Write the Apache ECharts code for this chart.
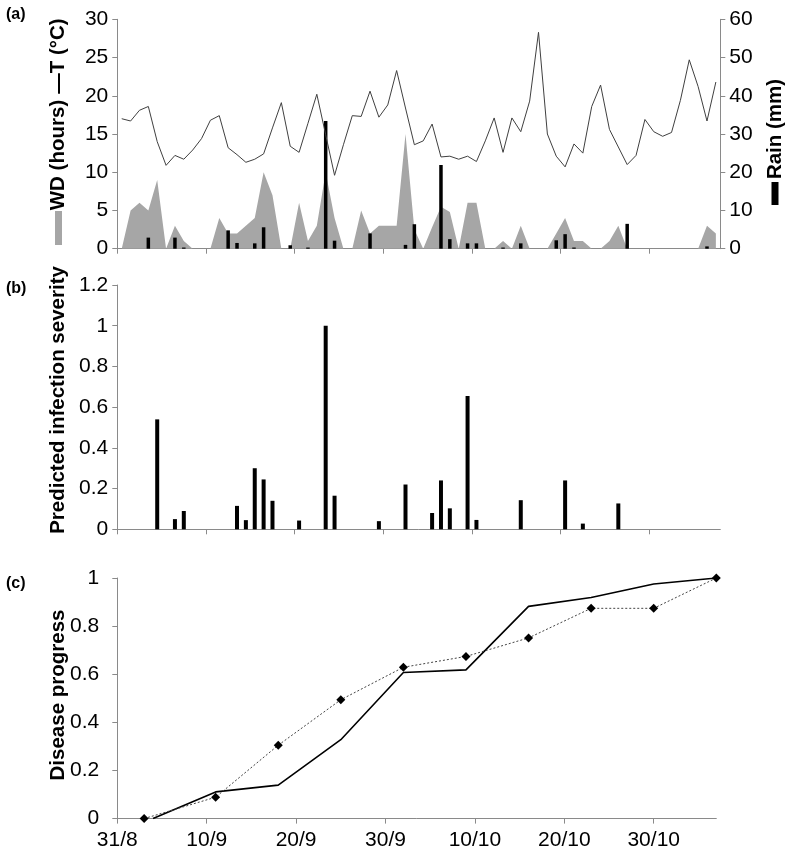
<!DOCTYPE html>
<html><head><meta charset="utf-8">
<script src="https://cdn.jsdelivr.net/npm/echarts@6/dist/echarts.min.js"></script>
<style>html,body{margin:0;padding:0;background:#fff}#c{width:795px;height:859px}</style>
</head><body><div id="c"></div>
<script>
// ---------- data ----------
const startDay = '31/8';
const nDays = 68; // 31/8 .. 6/11, one slot per day
const tickLabels = ['31/8','10/9','20/9','30/9','10/10','20/10','30/10'];

// (a) daily mean temperature (°C)
const tempC = [17.0,16.7,18.1,18.6,14.0,10.9,12.2,11.7,12.9,14.4,16.8,17.4,13.2,12.3,11.3,11.7,12.4,15.8,19.1,13.4,
  12.6,16.4,20.2,14.9,9.6,13.6,17.4,17.3,20.6,17.2,18.8,23.3,18.4,13.6,14.1,16.3,12.0,12.1,11.7,12.1,
  11.4,14.1,17.1,12.6,17.1,15.3,19.3,28.3,15.0,12.1,10.7,13.7,12.5,18.6,21.4,15.6,13.3,11.0,12.2,16.9,
  15.3,14.7,15.2,19.4,24.7,21.2,16.7,21.8];
// (a) wetness duration (hours)
const wdHours = [0,5,6,5,9,0,3,1,0,0,0,4,2,2,3,4,10,7,0,0,
  6,1,3,10,4,0,0,5,2,3,3,3,15,2.5,0,2.8,5.5,4.8,0,6,
  6,0,0,1,0,3,0,0,0,2,4,1,1,0,0,1,3,0,0,0,
  0,0,0,0,0,0,3,2];
// (a) rain (mm)
const rainMm = [0,0,0,2.9,0,0,2.9,0.3,0,0,0,0,4.8,1.5,0,1.4,5.6,0,0,0.9,
  0,0.3,0,33.4,2.1,0,0,0,4.0,0,0,0,1.0,6.4,0,0,21.9,2.5,0,1.4,
  1.4,0,0,0.3,0,1.4,0,0,0,2.2,3.8,0.3,0,0,0,0,0,6.5,0,0,
  0,0,0,0,0,0,0.6,0];
// (b) predicted infection severity
const severity = [0,0,0,0,0.54,0,0.05,0.09,0,0,0,0,0,0.115,0.045,0.30,0.245,0.14,0,0,
  0.043,0,0,1.0,0.165,0,0,0,0,0.04,0,0,0.22,0,0,0.08,0.24,0.103,0,0.655,
  0.046,0,0,0,0,0.143,0,0,0,0,0.24,0,0.028,0,0,0,0.127,0,0,0,
  0,0,0,0,0,0,0,0];
// (c) disease progress
const solidDates  = ['4/9','11/9','18/9','25/9','2/10','9/10','16/10','23/10','30/10','6/11'];
const solidValues = [0,0.111,0.139,0.328,0.607,0.618,0.882,0.919,0.975,1.0];
const dottedDates  = ['3/9','11/9','18/9','25/9','2/10','9/10','16/10','23/10','30/10','6/11'];
const dottedValues = [0,0.089,0.305,0.494,0.629,0.674,0.751,0.874,0.874,1.0];

// ---------- helpers ----------
function dayIndex(s){ const p=s.split('/').map(Number); const off={8:-31,9:0,10:30,11:61}; return p[0]+off[p[1]]; }
const tickVals = tickLabels.map(dayIndex);
const daily = arr => arr.map((v,i)=>[i+0.5, v]);

const AX = '#8a8a8a';
const FONT = 'Liberation Sans, Arial, sans-serif';
const LBL = {color:'#000', fontSize:21, fontFamily:FONT};

function xAx(grid, max, showLabels){
  return {type:'value', gridIndex:grid, min:0, max:max, interval:10,
    axisLine:{show:true, onZero:false, lineStyle:{color:AX,width:1}},
    axisTick:{show:true, inside:false, length:5, customValues:tickVals, lineStyle:{color:AX}},
    axisLabel: showLabels ? Object.assign({customValues:tickVals, margin:11,
      formatter:v=>{const i=tickVals.indexOf(v); return i>=0?tickLabels[i]:'';}}, LBL) : {show:false},
    splitLine:{show:false}};
}
function yAx(grid, max, interval, pos, margin){
  return {type:'value', gridIndex:grid, min:0, max:max, interval:interval, position:pos||'left',
    axisLine:{show:true, lineStyle:{color:AX,width:1}},
    axisTick:{show:true, inside:false, length:5, lineStyle:{color:AX}},
    axisLabel:Object.assign({margin:margin||9}, LBL),
    splitLine:{show:false}};
}

const chart = echarts.init(document.getElementById('c'), null, {renderer:'canvas'});
const nameStyle = {fill:'#000', font:'bold 20.5px '+FONT, textAlign:'center', textVerticalAlign:'middle'};
chart.setOption({
  animation:false,
  backgroundColor:'#fff',
  grid:[
    {left:117.3, top:19.3, width:603, height:229.4},
    {left:117.3, top:285, width:603, height:244.3},
    {left:117.3, top:578, width:599, height:240.6}
  ],
  xAxis:[ xAx(0, nDays, false), xAx(1, nDays, false), xAx(2, dayIndex('6/11'), true) ],
  yAxis:[ yAx(0,30,5,'left'), yAx(0,60,10,'right'), yAx(1,1.2,0.2,'left'), yAx(2,1,0.2,'left',18) ],
  series:[
    {name:'WD', type:'line', xAxisIndex:0, yAxisIndex:0, data:daily(wdHours), symbol:'none',
      lineStyle:{width:0}, areaStyle:{color:'#a6a6a6', opacity:1}, itemStyle:{color:'#a6a6a6'}, z:1},
    {name:'Rain', type:'bar', xAxisIndex:0, yAxisIndex:1, data:daily(rainMm), barWidth:3.5,
      itemStyle:{color:'#000'}, z:2},
    {name:'T', type:'line', xAxisIndex:0, yAxisIndex:0, data:daily(tempC), symbol:'none',
      lineStyle:{color:'#404040', width:1}, z:3},
    {name:'Severity', type:'bar', xAxisIndex:1, yAxisIndex:2, data:daily(severity), barWidth:4,
      itemStyle:{color:'#000'}},
    {name:'Solid', type:'line', xAxisIndex:2, yAxisIndex:3,
      data:solidDates.map((d,i)=>[dayIndex(d), solidValues[i]]), symbol:'none',
      lineStyle:{color:'#000', width:1.6}},
    {name:'Dotted', type:'line', xAxisIndex:2, yAxisIndex:3,
      data:dottedDates.map((d,i)=>[dayIndex(d), dottedValues[i]]), symbol:'diamond', symbolSize:9,
      itemStyle:{color:'#000'}, lineStyle:{color:'#444', width:1, type:[2,2]}}
  ],
  graphic:[
    {type:'text', left:6, top:7, style:{text:'(a)', fill:'#000', font:'bold 16px '+FONT}},
    {type:'text', left:6, top:281, style:{text:'(b)', fill:'#000', font:'bold 16px '+FONT}},
    {type:'text', left:6, top:576, style:{text:'(c)', fill:'#000', font:'bold 16px '+FONT}},
    {type:'rect', shape:{x:55, y:211, width:7, height:34}, style:{fill:'#a6a6a6'}},
    {type:'text', x:58.5, y:155, rotation:Math.PI/2, style:Object.assign({text:'WD (hours)'}, nameStyle)},
    {type:'text', x:58.5, y:56, rotation:Math.PI/2, style:Object.assign({text:'\u2014T (\u00B0C)'}, nameStyle)},
    {type:'rect', shape:{x:771.5, y:182, width:7, height:23}, style:{fill:'#000'}},
    {type:'text', x:775, y:129, rotation:Math.PI/2, style:Object.assign({text:'Rain (mm)'}, nameStyle)},
    {type:'text', x:58, y:400, rotation:Math.PI/2, style:Object.assign({text:'Predicted infection severity'}, nameStyle)},
    {type:'text', x:58, y:695, rotation:Math.PI/2, style:Object.assign({text:'Disease progress'}, nameStyle)}
  ]
});
</script></body></html>
